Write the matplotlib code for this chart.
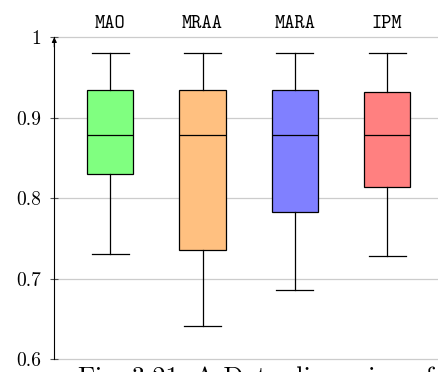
import matplotlib
matplotlib.use("Agg")
import matplotlib.pyplot as plt

# Data
methods = ["MAO", "MRAA", "MARA", "IPM"]
whislo = [0.730, 0.641, 0.686, 0.728]
q1 = [0.830, 0.736, 0.783, 0.814]
med = [0.879, 0.879, 0.879, 0.879]
q3 = [0.935, 0.935, 0.935, 0.932]
whishi = [0.981, 0.981, 0.981, 0.981]
colors = ["#80FF80", "#FFC080", "#8080FF", "#FF8080"]
yticks = [0.6, 0.7, 0.8, 0.9, 1.0]
yticklabels = ["0.6", "0.7", "0.8", "0.9", "1"]
caption = "Fig. 3.21: A Data dispersion of"

plt.rcParams["axes.formatter.use_mathtext"] = True

W, H = 439, 372
fig = plt.figure(figsize=(W / 100, H / 100), dpi=100)
ax = fig.add_axes([54.3 / W, (H - 359) / H, 1 - 54.3 / W, (359 - 37.3) / H])

stats = []
for i in range(len(methods)):
    stats.append(dict(label=methods[i], whislo=whislo[i], q1=q1[i], med=med[i],
                      q3=q3[i], whishi=whishi[i], fliers=[]))

positions = list(range(1, len(methods) + 1))
bp = ax.bxp(stats, positions=positions, widths=0.5, capwidths=0.4,
            patch_artist=True, showfliers=False,
            boxprops=dict(linewidth=0.9, edgecolor="black"),
            whiskerprops=dict(linewidth=0.9, color="black"),
            capprops=dict(linewidth=0.9, color="black"),
            medianprops=dict(linewidth=0.9, color="black"),
            zorder=3)
for patch, c in zip(bp["boxes"], colors):
    patch.set_facecolor(c)

ax.set_xlim(0.395, 4.56)
ax.set_ylim(0.6, 1.0)

ax.set_yticks(yticks)
ax.set_yticklabels(yticklabels, fontfamily="cmr10", fontsize=14)
ax.tick_params(axis="y", direction="inout", length=6, width=0.8, color="#555555", pad=6.5)

ax.xaxis.tick_top()
ax.set_xticks(positions)
ax.set_xticklabels(methods, fontfamily="cmtt10", fontsize=14)
ax.tick_params(axis="x", length=0, pad=3)

ax.grid(axis="y", color="#cccccc", linewidth=0.9, zorder=0)
ax.set_axisbelow(True)
for gl in ax.get_ygridlines():
    gl.set_clip_on(False)
for s in ["top", "right", "bottom"]:
    ax.spines[s].set_visible(False)
ax.spines["left"].set_linewidth(0.8)
ax.spines["left"].set_zorder(4)

ax.annotate("", xy=(0, 1.0), xytext=(0, 0.97), xycoords="axes fraction",
            arrowprops=dict(arrowstyle="-|>", lw=0.8, color="black",
                            mutation_scale=7, shrinkA=0, shrinkB=0),
            annotation_clip=False)

fig.text(78 / W, (H - 384.5) / H, caption, fontfamily="cmr10", fontsize=19,
         va="baseline", ha="left")

fig.savefig("out.png", dpi=100)
